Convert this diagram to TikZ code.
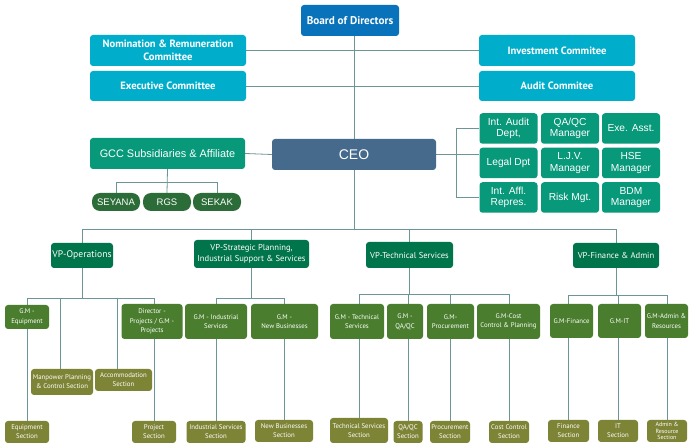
\documentclass[tikz,border=0pt]{standalone}
\usepackage{fontspec}
\setmainfont{PT Sans}
\newfontfamily\arialf{Liberation Sans}
\usetikzlibrary{backgrounds}
\definecolor{boardc}{RGB}{8,114,186}
\definecolor{comc}{RGB}{0,174,204}
\definecolor{tealc}{RGB}{8,152,122}
\definecolor{ceoc}{RGB}{70,106,140}
\definecolor{subc}{RGB}{44,108,56}
\definecolor{vpc}{RGB}{0,116,74}
\definecolor{gmc}{RGB}{74,126,46}
\definecolor{secc}{RGB}{126,132,54}
\definecolor{linec}{RGB}{108,150,150}
\begin{document}
\begin{tikzpicture}[x=1pt,y=-1pt,
  box/.style={rounded corners=3pt, text=white, align=center, inner sep=1pt},
  sz/.style 2 args={minimum width=#1pt, minimum height=#2pt},
  boardbox/.style={box, fill=boardc, font=\bfseries\fontsize{11.2}{13}\selectfont},
  comm/.style={box, fill=comc, font=\bfseries\fontsize{10.6}{12.5}\selectfont},
  tealbox/.style={box, fill=tealc, font=\arialf\fontsize{10.9}{12}\selectfont},
  ceobox/.style={box, fill=ceoc, font=\arialf\fontsize{14}{16}\selectfont},
  subbox/.style={box, fill=subc, rounded corners=8pt, font=\arialf\fontsize{9.5}{11}\selectfont},
  gridbox/.style={box, fill=tealc, font=\arialf\fontsize{10.2}{11.5}\selectfont},
  vpbox/.style={box, fill=vpc, font=\fontsize{8.6}{10.5}\selectfont},
  gmbox/.style={box, fill=gmc, font=\fontsize{6.8}{9.5}\selectfont},
  secbox/.style={box, fill=secc, font=\fontsize{6.8}{8.8}\selectfont},
  ln/.style={draw=linec, line width=0.8pt}]
\useasboundingbox (0,0) rectangle (694,446);

% top
\node[boardbox, sz={98}{31}] (board) at (350,20.5) {Board of Directors};
\node[comm, sz={156}{31}] (nom) at (168,50.5) {Nomination \& Remuneration\\Committee};
\node[comm, sz={156}{30}] (exe) at (168,86) {Executive Committee};
\node[comm, sz={156}{31}] (inv) at (557,50.5) {Investment Commitee};
\node[comm, sz={156}{30}] (aud) at (557,86) {Audit Commitee};
\node[tealbox, sz={155}{31}] (gcc) at (167.5,153.5) {GCC Subsidiaries \& Affiliate};
\node[ceobox, sz={164}{31}] (ceo) at (354,154.5) {CEO};
\node[subbox, sz={48}{18}] (sey) at (116,202) {SEYANA};
\node[subbox, sz={48}{18}] (rgs) at (167,202) {RGS};
\node[subbox, sz={48}{18}] (sek) at (217,202) {SEKAK};

% grid
\node[gridbox, sz={58}{30.5}] (g11) at (508.5,128.5) {Int. Audit\\Dept,};
\node[gridbox, sz={58}{30.5}] (g12) at (570,128.5) {QA/QC\\Manager};
\node[gridbox, sz={58}{30.5}] (g13) at (631,128.5) {Exe. Asst.};
\node[gridbox, sz={58}{30.5}] (g21) at (508.5,163) {Legal Dpt};
\node[gridbox, sz={58}{30.5}] (g22) at (570,163) {L.J.V.\\Manager};
\node[gridbox, sz={58}{30.5}] (g23) at (631,163) {HSE\\Manager};
\node[gridbox, sz={58}{30.5}] (g31) at (508.5,197.5) {Int. Affl.\\Repres.};
\node[gridbox, sz={58}{30.5}] (g32) at (570,197.5) {Risk Mgt.};
\node[gridbox, sz={58}{30.5}] (g33) at (631,197.5) {BDM\\Manager};

% VPs
\node[vpbox, sz={62}{25}, font=\fontsize{9.6}{11}\selectfont] (vp1) at (82,255.5) {VP-Operations};
\node[vpbox, sz={115}{28}] (vp2) at (251.5,254) {VP-Strategic Planning,\\Industrial Support \& Services};
\node[vpbox, sz={87}{26}] (vp3) at (409.5,255) {VP-Technical Services};
\node[vpbox, sz={86}{25}] (vp4) at (616,255.5) {VP-Finance \& Admin};

% Operations
\node[gmbox, sz={44}{24}] (gmeq) at (27,317) {G.M -\\Equipment};
\node[gmbox, sz={61}{35}] (dir) at (152,321.5) {Director -\\Projects / G.M -\\Projects};
\node[secbox, sz={62}{26}] (mp) at (62,382) {Manpower Planning\\\& Control Section};
\node[secbox, sz={57}{22}] (acc) at (123.5,380) {Accommodation\\Section};
\node[secbox, sz={44}{22}] (eqsec) at (27,432) {Equipment\\Section};
\node[secbox, sz={44}{22}] (prsec) at (154,432) {Project\\Section};

% Strategic
\node[gmbox, sz={62}{35}] (gmind) at (216,321.5) {G.M - Industrial\\Services};
\node[gmbox, sz={67}{35}] (gmnew) at (284.5,321.5) {G.M -\\New Businesses};
\node[secbox, sz={59}{22}] (indsec) at (216,432) {Industrial Services\\Section};
\node[secbox, sz={58}{22}] (newsec) at (284,431) {New Businesses\\Section};

% Technical
\node[gmbox, sz={54}{35}] (gmts) at (357,321.5) {G.M - Technical\\Services};
\node[gmbox, sz={36}{35}] (gmqa) at (405,321.5) {G.M -\\QA/QC};
\node[gmbox, sz={47}{35}] (gmproc) at (450.5,321.5) {G.M-\\Procurement};
\node[gmbox, sz={63}{35}] (gmcost) at (508.5,321.5) {G.M-Cost\\Control \& Planning};
\node[secbox, sz={58}{25}] (tssec) at (359,430.5) {Technical Services\\Section};
\node[secbox, sz={29}{22}] (qasec) at (408,432) {QA/QC\\Section};
\node[secbox, sz={40}{22}] (procsec) at (450,432) {Procurement\\Section};
\node[secbox, sz={40}{22}] (costsec) at (509,432) {Cost Control\\Section};

% Finance
\node[gmbox, sz={43}{34}] (gmfin) at (571.5,321) {G.M-Finance};
\node[gmbox, sz={43}{34}] (gmit) at (619.5,321) {G.M-IT};
\node[gmbox, sz={43}{34}] (gmadm) at (666.5,321) {G.M-Admin \&\\Resources};
\node[secbox, sz={41}{22}] (finsec) at (568.5,431) {Finance\\Section};
\node[secbox, sz={40}{22}] (itsec) at (618,431) {IT\\Section};
\node[secbox, sz={40}{22}, font=\fontsize{6}{6.5}\selectfont] (admsec) at (667,431) {Admin \&\\Resource\\Section};

\coordinate (sb) at (0,182);
\coordinate (gb) at (456,0);
\coordinate (mb) at (0,229);
\coordinate (ob) at (0,298);
\coordinate (tb) at (0,294);
\coordinate (fb) at (0,295);
\coordinate (accx) at (117,0);

\begin{scope}[on background layer]
\fill[white] (0,0) rectangle (694,446);
\draw[ln] (ceo.north) -- (ceo.north |- board.south);
\draw[ln] (nom.east) -- (inv.west);
\draw[ln] (exe.east) -- (aud.west);
\draw[ln] (gcc.east) -- (ceo.west);
\draw[ln] (gcc.south) -- (rgs.north);
\draw[ln] (sey.north) -- (sey.north |- sb) -- (sek.north |- sb) -- (sek.north);
\draw[ln] (ceo.east) -- (g21.west |- ceo.east);
\draw[ln] (g11.west) -- (gb |- g11.west) -- (gb |- g31.west) -- (g31.west);
\draw[ln] (ceo.south) -- (ceo.south |- mb);
\draw[ln] (vp1.north) -- (vp1.north |- mb) -- (vp4.north |- mb) -- (vp4.north);
\draw[ln] (vp2.north) -- (vp2.north |- mb);
\draw[ln] (vp3.north) -- (vp3.north |- mb);
% operations
\draw[ln] (vp1.south) -- (vp1.south |- ob);
\draw[ln] (eqsec.north) -- (eqsec.north |- ob) -- (prsec.north |- ob) -- (prsec.north);
\draw[ln] ([xshift=-2pt]mp.north) -- ([xshift=-2pt]mp.north |- ob);
\draw[ln] (accx |- acc.north) -- (accx |- ob);
% strategic
\draw[ln] (vp2.south) -- (vp2.south |- ob);
\draw[ln] (indsec.north) -- (indsec.north |- ob) -- (newsec.north |- ob) -- (newsec.north);
% technical
\draw[ln] (vp3.south) -- (vp3.south |- tb);
\draw[ln] (tssec.north) -- (tssec.north |- tb) -- (costsec.north |- tb) -- (costsec.north);
\draw[ln] (qasec.north) -- (qasec.north |- tb);
\draw[ln] (procsec.north) -- (procsec.north |- tb);
% finance
\draw[ln] (vp4.south) -- (vp4.south |- fb);
\draw[ln] (finsec.north) -- (finsec.north |- fb) -- (admsec.north |- fb) -- (admsec.north);
\draw[ln] (itsec.north) -- (itsec.north |- fb);
\end{scope}
\end{tikzpicture}
\end{document}
